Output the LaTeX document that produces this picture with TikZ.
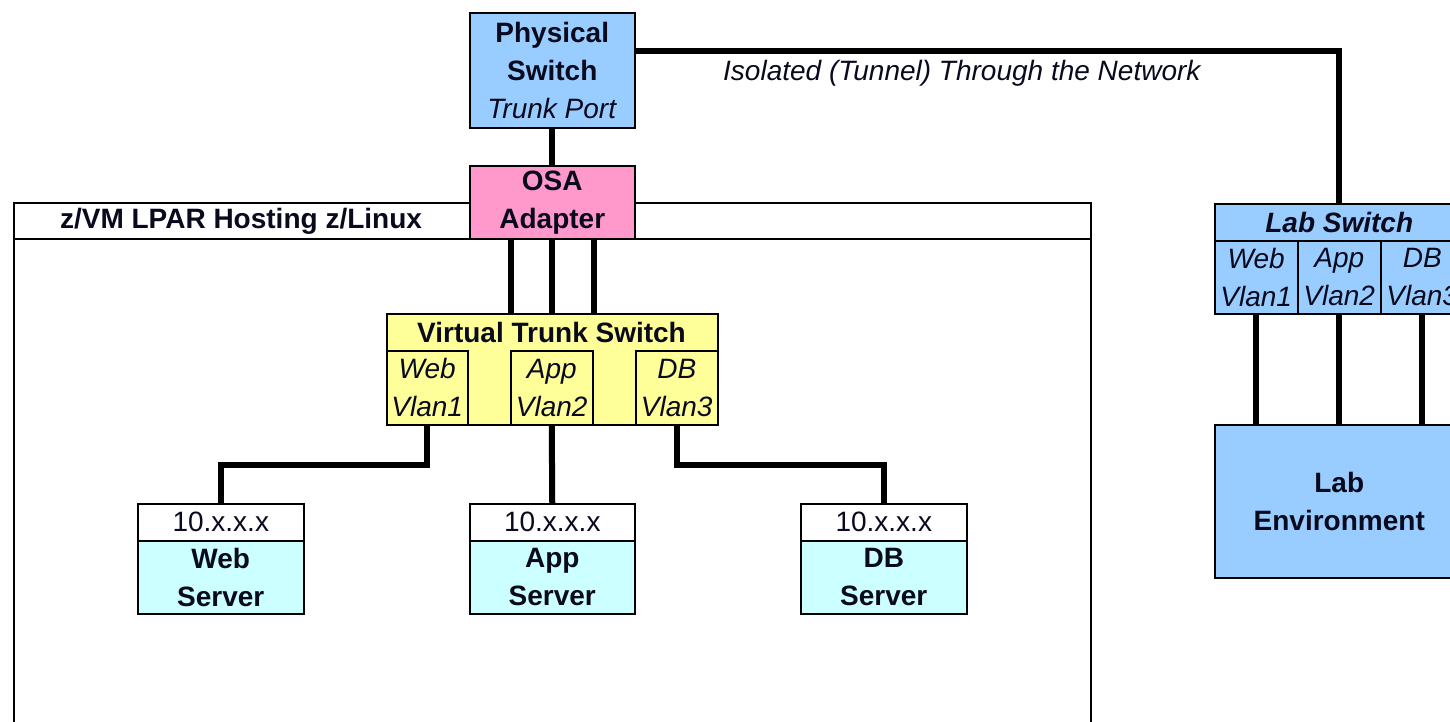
\documentclass[tikz,border=0pt]{standalone}
\usepackage{fontspec}
\setmainfont{Liberation Sans}
\usetikzlibrary{calc}
\pgfdeclarelayer{background}
\pgfsetlayers{background,main}
\definecolor{physblue}{RGB}{153,204,255}
\definecolor{osapink}{RGB}{255,153,204}
\definecolor{vtsyellow}{RGB}{255,255,153}
\definecolor{srvcyan}{RGB}{204,255,255}
\definecolor{inkc}{RGB}{10,10,30}
\newcommand\fsz{\fontsize{28}{38}\selectfont}
\begin{document}
\begin{tikzpicture}[x=1pt,y=-1pt,
  box/.style={draw=black, line width=1.5pt, inner sep=0pt, anchor=north west, align=center, font=\fsz, text=inkc},
  lbl/.style={inner sep=0pt, font=\fsz, text=inkc},
  conn/.style={line width=6pt, draw=black}]
\useasboundingbox (0,0) rectangle (1450,721);
\clip (0,0) rectangle (1450,721);
% LPAR frame
\node[box, minimum width=1077, minimum height=36] (lparhead) at (13,202) {};
\node[box, minimum width=1077, minimum height=540] (lpar) at (13,238) {};
\node[lbl] (lparlbl) at (241,221) {\textbf{z/VM LPAR Hosting z/Linux}};
% Physical switch and OSA
\node[box, fill=physblue, minimum width=165, minimum height=115] (phys) at (469,12) {\textbf{Physical}\\\textbf{Switch}\\\textit{Trunk Port}};
\node[box, fill=osapink, minimum width=165, minimum height=73] (osa) at (469,165) {\textbf{OSA}\\\textbf{Adapter}};
% Virtual trunk switch
\node[box, fill=vtsyellow, minimum width=331, minimum height=111] (vts) at (386,313) {};
\node[lbl] (vtstitle) at (551.5,332) {\textbf{Virtual Trunk Switch}};
\node[box, fill=vtsyellow, minimum width=81, minimum height=74] (vweb) at (386,350) {\textit{Web}\\\textit{Vlan1}};
\node[box, fill=vtsyellow, minimum width=82, minimum height=74] (vapp) at (510,350) {\textit{App}\\\textit{Vlan2}};
\node[box, fill=vtsyellow, minimum width=82, minimum height=74] (vdb) at (635,350) {\textit{DB}\\\textit{Vlan3}};
% Servers
\node[box, fill=white, minimum width=166, minimum height=37] (webip) at (137,503) {10.x.x.x};
\node[box, fill=srvcyan, minimum width=166, minimum height=73] (websrv) at (137,540) {\textbf{Web}\\\textbf{Server}};
\node[box, fill=white, minimum width=165, minimum height=37] (appip) at (469,503) {10.x.x.x};
\node[box, fill=srvcyan, minimum width=165, minimum height=73] (appsrv) at (469,540) {\textbf{App}\\\textbf{Server}};
\node[box, fill=white, minimum width=166, minimum height=37] (dbip) at (800,503) {10.x.x.x};
\node[box, fill=srvcyan, minimum width=166, minimum height=73] (dbsrv) at (800,540) {\textbf{DB}\\\textbf{Server}};
% Lab side
\node[box, fill=physblue, minimum width=249, minimum height=37] (labsw) at (1214,203) {\textbf{\textit{Lab Switch}}};
\node[box, fill=physblue, minimum width=83, minimum height=73] (lweb) at (1214,240) {\textit{Web}\\\textit{Vlan1}};
\node[box, fill=physblue, minimum width=83, minimum height=73] (lapp) at (1297,240) {\textit{App}\\\textit{Vlan2}};
\node[box, fill=physblue, minimum width=83, minimum height=73] (ldb) at (1380,240) {\textit{DB}\\\textit{Vlan3}};
\node[box, fill=physblue, minimum width=249, minimum height=153] (labenv) at (1214,424) {\textbf{Lab}\\\textbf{Environment}};
\node[lbl, anchor=west] (tunnel) at (723,73) {\textit{Isolated (Tunnel) Through the Network}};
% Connectors
\begin{pgfonlayer}{background}
\draw[conn] (phys.south) -- (osa.north);
\draw[conn] ([yshift=19.5pt]phys.east) -| (labsw.north);
\draw[conn] ([xshift=-41.5pt]osa.south) -- ([xshift=-41.5pt]vts.north);
\draw[conn] (osa.south) -- (vts.north);
\draw[conn] ([xshift=41.5pt]osa.south) -- ([xshift=41.5pt]vts.north);
\draw[conn] (vweb.south) -- ++(0,39) -| (webip.north);
\draw[conn] (vapp.south) -- (appip.north);
\draw[conn] (vdb.south) -- ++(0,39) -| (dbip.north);
\draw[conn] (lweb.south) -- (lweb.south |- labenv.north);
\draw[conn] (lapp.south) -- (lapp.south |- labenv.north);
\draw[conn] (ldb.south) -- (ldb.south |- labenv.north);
\end{pgfonlayer}
\end{tikzpicture}
\end{document}
